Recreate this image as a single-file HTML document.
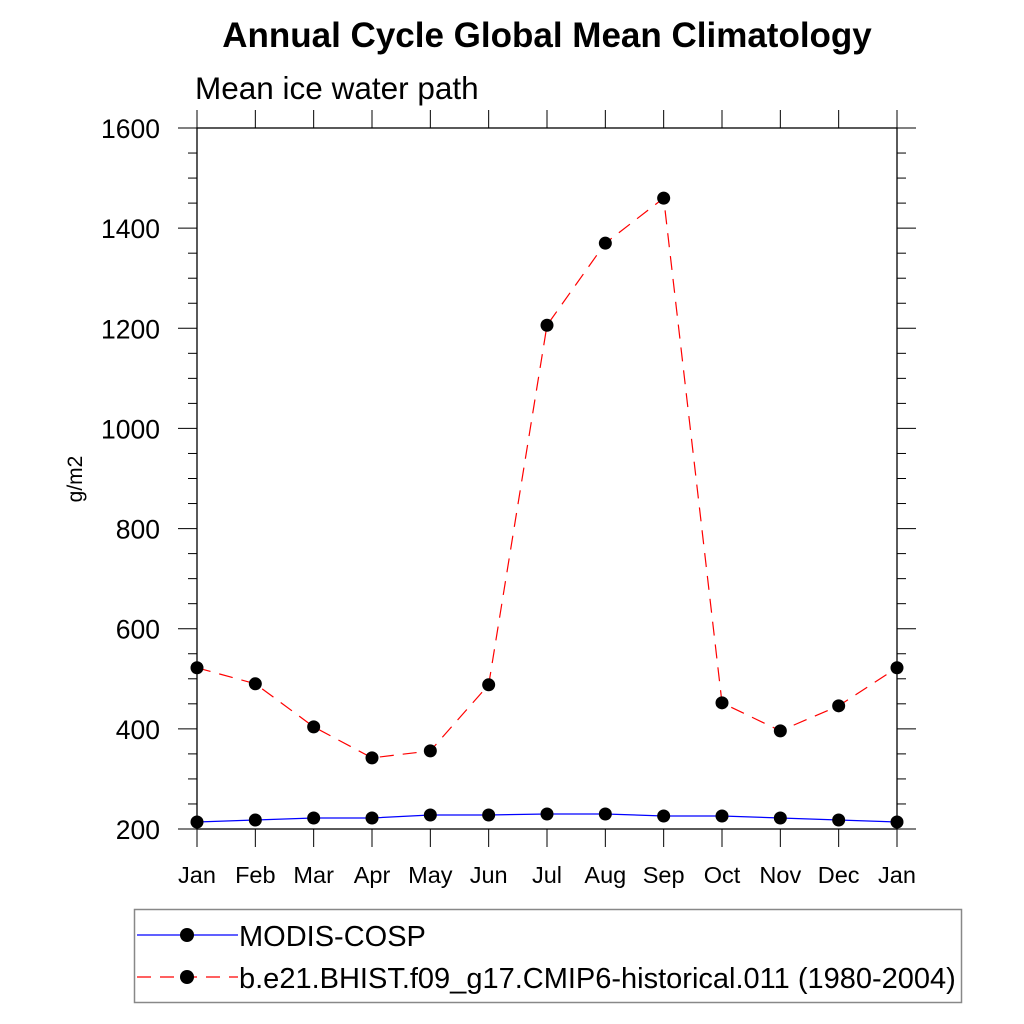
<!DOCTYPE html>
<html><head><meta charset="utf-8"><style>
body{margin:0;background:#fff;}
svg{display:block;font-family:"Liberation Sans",sans-serif;}
</style></head><body>
<svg id="chart" width="1024" height="1024" viewBox="0 0 1024 1024">
<text x="547" y="47" text-anchor="middle" font-size="35" font-weight="bold">Annual Cycle Global Mean Climatology</text>
<text x="195" y="99" font-size="31.5">Mean ice water path</text>
<text transform="translate(82,479) rotate(-90)" text-anchor="middle" font-size="21">g/m2</text>
<g id="axes"></g>
<g id="series"></g>
<rect x="134.5" y="909.5" width="827" height="93" fill="none" stroke="#888" stroke-width="1.5"/>
<g>
<line x1="137" y1="935" x2="238" y2="935" stroke="#0000ff" stroke-width="1.2"/>
<circle cx="187" cy="935" r="7"/>
<text x="239" y="946" font-size="29">MODIS-COSP</text>
</g>
<g>
<line x1="137" y1="977" x2="238" y2="977" stroke="#ff0000" stroke-width="1.2" stroke-dasharray="14,9"/>
<circle cx="187" cy="977" r="7"/>
<text x="239" y="988" font-size="29">b.e21.BHIST.f09_g17.CMIP6-historical.011 (1980-2004)</text>
</g>
</svg>
<script>
const months = ["Jan","Feb","Mar","Apr","May","Jun","Jul","Aug","Sep","Oct","Nov","Dec","Jan"];
const modisValues = [214,218,222,222,228,228,230,230,226,226,222,218,214];
const modelValues = [522,490,404,342,356,488,1206,1370,1460,452,396,446,522];
const yTicks = [200,400,600,800,1000,1200,1400,1600];

const NS="http://www.w3.org/2000/svg";
const X0=197,X1=897,Y0=829,Y1=128,YMIN=200,YMAX=1600;
const xs=i=>X0+(X1-X0)*i/(months.length-1);
const ys=v=>Y0-(v-YMIN)*(Y0-Y1)/(YMAX-YMIN);
function mk(tag,attrs,parent){const e=document.createElementNS(NS,tag);for(const k in attrs)e.setAttribute(k,attrs[k]);parent.appendChild(e);return e;}
const axes=document.getElementById('axes'),ser=document.getElementById('series');
const frame=mk('rect',{x:X0,y:Y1,width:X1-X0,height:Y0-Y1,fill:'none',stroke:'#000','stroke-width':1.3},axes);


for(let v=YMIN;v<=YMAX;v+=50){
  const y=ys(v),major=(v%200===0);
  mk('line',{x1:X0-(major?19:9),y1:y,x2:X0,y2:y,stroke:'#000','stroke-width':1},axes);
  mk('line',{x1:X1,y1:y,x2:X1+(major?19:9),y2:y,stroke:'#000','stroke-width':1},axes);
}
yTicks.forEach(v=>{
  const t=mk('text',{x:160,y:ys(v)+10,'text-anchor':'end','font-size':26.5},axes);
  t.textContent=v;
  
  
});
months.forEach((m,i)=>{
  const x=xs(i);
  mk('line',{x1:x,y1:Y0,x2:x,y2:Y0+18,stroke:'#000','stroke-width':1},axes);
  mk('line',{x1:x,y1:Y1-18,x2:x,y2:Y1,stroke:'#000','stroke-width':1},axes);
  const t=mk('text',{x:x,y:883,'text-anchor':'middle','font-size':23.5},axes);
  t.textContent=m;
  
  
});
function drawSeries(vals,color,dash,name){
  const pts=vals.map((v,i)=>xs(i)+','+ys(v)).join(' ');
  const pl=mk('polyline',{points:pts,fill:'none',stroke:color,'stroke-width':1.2,'stroke-dasharray':dash},ser);
  
  
  vals.forEach((v,i)=>{
    const c=mk('circle',{cx:xs(i),cy:ys(v),r:6.5,fill:'#000'},ser);
    
    
  });
}
drawSeries(modisValues,'#0000ff','none','modis');
drawSeries(modelValues,'#ff0000','14,9','model');
</script>
</body></html>
